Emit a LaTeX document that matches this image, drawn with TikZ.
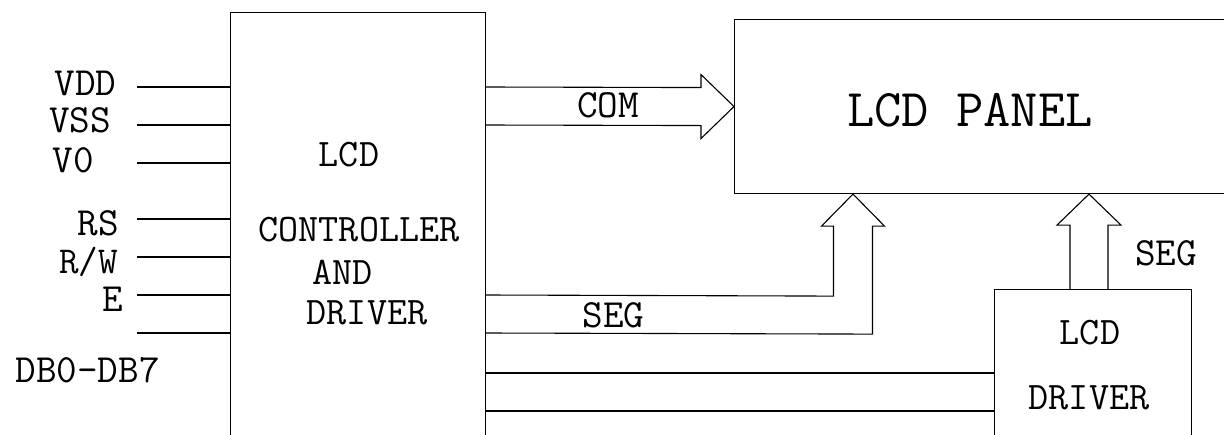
\documentclass[tikz,border=0pt]{standalone}
\usepackage{fontspec}
\usetikzlibrary{calc}
\begin{document}
\begin{tikzpicture}[x=1pt,y=-1pt,line width=1.1pt,
  box/.style={draw,rectangle,inner sep=0pt,anchor=north west},
  lbl/.style={inner sep=0pt,font=\ttfamily\fontsize{40}{40}\selectfont,text height=24.4pt,text depth=0pt},
  mid/.style={inner sep=0pt,font=\ttfamily\fontsize{39}{39}\selectfont,text height=23.8pt,text depth=0pt},
  big/.style={inner sep=0pt,font=\ttfamily\fontsize{53}{53}\selectfont,text height=32.4pt,text depth=0pt}]
\useasboundingbox (0,0) rectangle (1224,434);
\clip (0,0) rectangle (1224,434);
% boxes
\node[box,minimum width=255pt,minimum height=520pt] (ctrl) at (230,12) {};
\node[box,minimum width=620pt,minimum height=174pt] (panel) at (734,19) {};
\node[box,minimum width=197pt,minimum height=220pt] (drv) at (994,289) {};
% input lines
\foreach \yy [count=\i] in {87,125,163,219,257,295,333}{
  \coordinate (in\i) at (137,\yy);
  \draw (in\i) -- (in\i -| ctrl.west);
}
% input labels
\node[lbl] (tvdd) at (85.5,83.5) {VDD};
\node[lbl] (tvss) at (80,120) {VSS};
\node[lbl] (tvo) at (73,160) {V0};
\node[lbl] (trs) at (98,223) {RS};
\node[lbl,font=\ttfamily\fontsize{38}{38}\selectfont,text height=23.2pt] (trw) at (88.5,262) {R/W};
\node[lbl] (te) at (112.5,299) {E};
\node[lbl] (tdb) at (87.5,370) {DB0-DB7};
% controller text
\node[mid] (c1) at (349,155) {LCD};
\node[mid] (c2) at (359,230) {CONTROLLER};
\node[mid] (c3) at (342.5,273) {AND};
\node[mid] (c4) at (367,313) {DRIVER};
% panel text
\node[big] (ptxt) at (970,110) {LCD PANEL};
% driver text
\node[mid] (d1t) at (1090,333) {LCD};
\node[mid] (d2t) at (1089,398) {DRIVER};
% COM arrow
\draw (ctrl.north east |- in1) -- ($(panel.west)+(-33,-19)$) -- ($(panel.west)+(-33,-32)$)
  -- (panel.west) -- ($(panel.west)+(-33,32)$) -- ($(panel.west)+(-33,19)$) -- (ctrl.north east |- in2);
\node[lbl] (tcom) at (608,105) {COM};
% SEG arrow from controller
\coordinate (t1) at ([xshift=119pt]panel.south west);
\coordinate (s1) at ($(ctrl.north east)+(0,283)$);
\coordinate (s2) at ($(ctrl.north east)+(0,321)$);
\draw (s1) -- ($(t1)+(-19.5,102)$) -- ($(t1)+(-19.5,32)$) -- ($(t1)+(-31.5,32)$) -- (t1)
  -- ($(t1)+(31.5,32)$) -- ($(t1)+(19.5,32)$) -- ($(t1)+(19.5,140)$) -- (s2);
\node[lbl] (tseg1) at (613.5,315) {SEG};
% SEG arrow from driver
\coordinate (t2) at ([xshift=355pt]panel.south west);
\coordinate (a1) at ($(t2)+(-19,31)$);
\coordinate (a2) at ($(t2)+(19,31)$);
\coordinate (b1) at (a1 |- drv.north);
\coordinate (b2) at (a2 |- drv.north);
\draw (b1) -- (a1) -- ($(t2)+(-32,31)$) -- (t2)
  -- ($(t2)+(32,31)$) -- (a2) -- (b2);
\node[lbl] (tseg2) at (1166,253) {SEG};
% lines to driver
\coordinate (l1) at ($(ctrl.north east)+(0,361)$);
\coordinate (l2) at ($(ctrl.north east)+(0,399)$);
\draw (l1) -- (l1 -| drv.west);
\draw (l2) -- (l2 -| drv.west);
\end{tikzpicture}
\end{document}
